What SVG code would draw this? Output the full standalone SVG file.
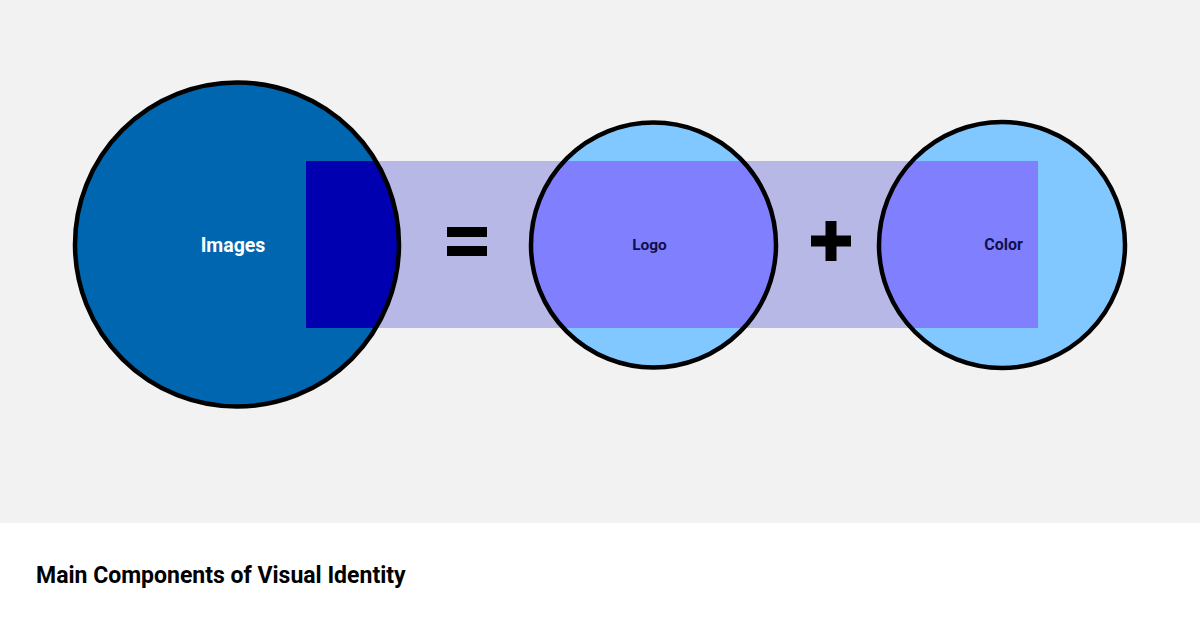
<svg xmlns="http://www.w3.org/2000/svg" width="1200" height="630" viewBox="0 0 1200 630">
  <style>
    .ring { fill: none; stroke: #000; stroke-width: 4.5; }
    .lbl { font-family: Roboto, "Liberation Sans", sans-serif; font-weight: 700; text-anchor: middle; }
    .sym { fill: #000; }
  </style>
  <defs>
    <clipPath id="clipImages"><circle cx="237" cy="244.5" r="162"/></clipPath>
    <clipPath id="clipLogo"><circle cx="653.5" cy="245" r="122.5"/></clipPath>
    <clipPath id="clipColor"><circle cx="1002" cy="245" r="123"/></clipPath>
  </defs>
  <rect x="0" y="0" width="1200" height="630" fill="#ffffff"/>
  <rect x="0" y="0" width="1200" height="523" fill="#f2f2f2"/>

  <g id="band">
    <rect x="306" y="161" width="732" height="167" fill="#b8b8e6"/>
  </g>

  <g id="node-images">
    <circle cx="237" cy="244.5" r="162" fill="#0066b0"/>
    <rect x="306" y="161" width="732" height="167" fill="#0000b0" clip-path="url(#clipImages)"/>
    <circle cx="237" cy="244.5" r="162" class="ring"/>
    <text x="233" y="252" class="lbl" font-size="19.5" fill="#ffffff">Images</text>
  </g>

  <g id="node-logo">
    <circle cx="653.5" cy="245" r="122.5" fill="#80c8ff"/>
    <rect x="306" y="161" width="732" height="167" fill="#8080ff" clip-path="url(#clipLogo)"/>
    <circle cx="653.5" cy="245" r="122.5" class="ring"/>
    <text x="649.5" y="249.5" class="lbl" font-size="15.5" fill="#10104c">Logo</text>
  </g>

  <g id="node-color">
    <circle cx="1002" cy="245" r="123" fill="#80c8ff"/>
    <rect x="306" y="161" width="732" height="167" fill="#8080ff" clip-path="url(#clipColor)"/>
    <circle cx="1002" cy="245" r="123" class="ring"/>
    <text x="1003.5" y="250" class="lbl" font-size="16" fill="#10104c">Color</text>
  </g>

  <g id="connectors">
    <g id="equals" class="sym">
      <rect x="447" y="227" width="40" height="10"/>
      <rect x="447" y="246" width="40" height="10"/>
    </g>
    <g id="plus" class="sym">
      <rect x="811" y="235.5" width="40" height="11"/>
      <rect x="825.5" y="221" width="11" height="40"/>
    </g>
  </g>

  <g id="caption">
    <text x="36" y="583" font-family="Roboto, 'Liberation Sans', sans-serif" font-weight="700" font-size="23" fill="#000">Main Components of Visual Identity</text>
  </g>
</svg>
